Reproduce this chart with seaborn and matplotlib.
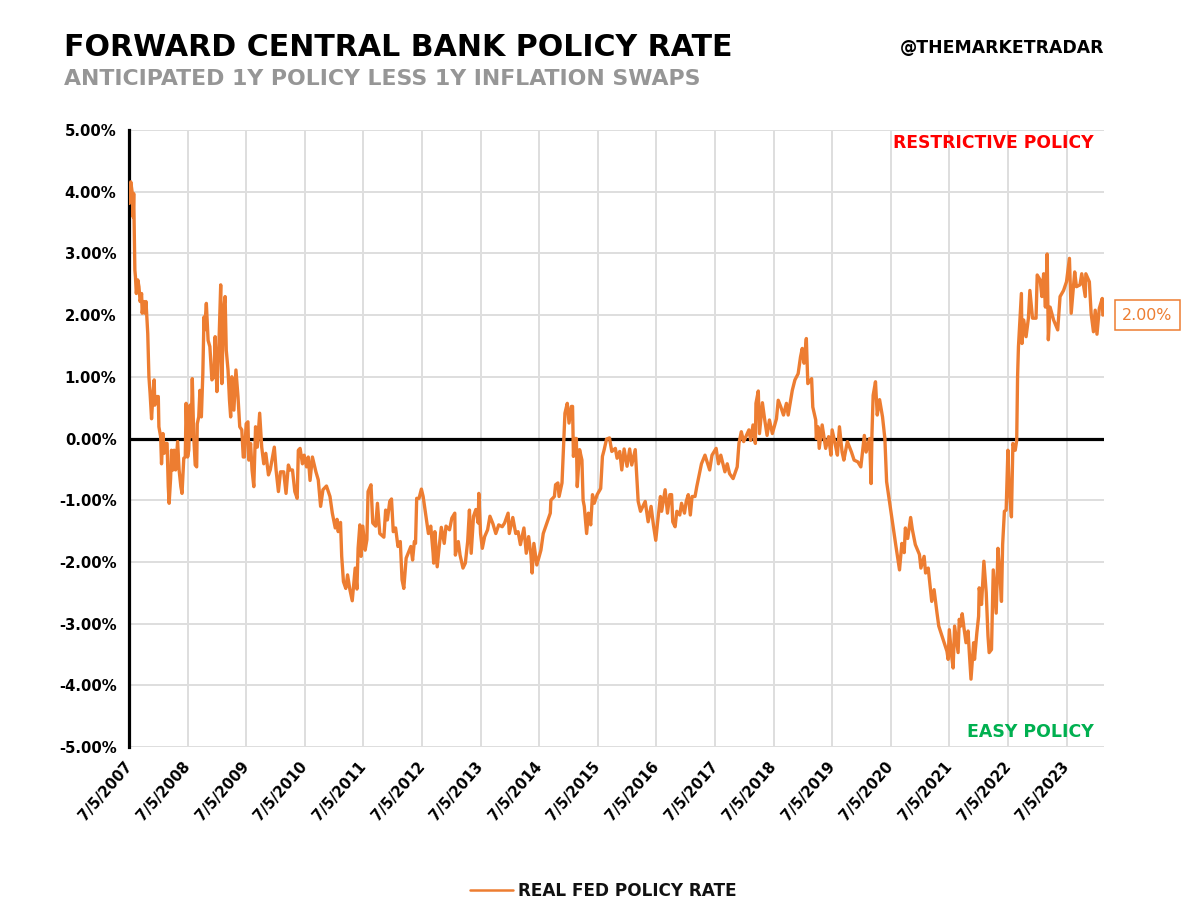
import numpy as np
import pandas as pd
import matplotlib.pyplot as plt
import matplotlib.dates as mdates
import matplotlib.ticker as ticker
import seaborn as sns

ORANGE = "#ED7D31"
GRID = "#DEDEDE"

# years since 7/5/2007 and the real policy rate in %
years = [
    0.006, 0.017, 0.03, 0.06, 0.07, 0.08, 0.10, 0.11, 0.125, 0.15, 0.17, 0.19, 0.215, 0.225, 0.25, 0.27, 0.29, 0.32, 0.34, 0.36,
    0.385, 0.41, 0.43, 0.44, 0.47, 0.50, 0.51, 0.54, 0.555, 0.58, 0.60, 0.62, 0.65, 0.67, 0.685, 0.71, 0.725, 0.75, 0.77, 0.795,
    0.83, 0.855, 0.885, 0.905, 0.935, 0.96, 0.975, 1.0, 1.02, 1.04, 1.06, 1.08, 1.105, 1.13, 1.155, 1.165, 1.19, 1.21, 1.235, 1.26,
    1.28, 1.29, 1.32, 1.35, 1.38, 1.415, 1.45, 1.47, 1.50, 1.53, 1.565, 1.585, 1.615, 1.64, 1.66, 1.69, 1.715, 1.735, 1.755, 1.79,
    1.825, 1.86, 1.89, 1.925, 1.95, 1.97, 2.0, 2.03, 2.045, 2.075, 2.10, 2.13, 2.16, 2.19, 2.23, 2.265, 2.30, 2.335, 2.38, 2.41,
    2.45, 2.48, 2.51, 2.55, 2.585, 2.64, 2.68, 2.72, 2.75, 2.79, 2.83, 2.87, 2.89, 2.92, 2.96, 2.99, 3.03, 3.06, 3.09, 3.13,
    3.19, 3.23, 3.27, 3.31, 3.37, 3.43, 3.47, 3.52, 3.55, 3.57, 3.61, 3.63, 3.66, 3.70, 3.73, 3.77, 3.81, 3.86, 3.89, 3.91,
    3.94, 3.96, 3.99, 4.03, 4.06, 4.08, 4.13, 4.16, 4.21, 4.24, 4.28, 4.35, 4.38, 4.41, 4.45, 4.48, 4.51, 4.55, 4.59, 4.63,
    4.66, 4.69, 4.73, 4.81, 4.84, 4.87, 4.89, 4.91, 4.95, 4.99, 5.02, 5.06, 5.11, 5.15, 5.19, 5.20, 5.22, 5.26, 5.30, 5.33,
    5.38, 5.41, 5.47, 5.51, 5.56, 5.57, 5.62, 5.65, 5.70, 5.74, 5.78, 5.81, 5.84, 5.88, 5.92, 5.96, 5.97, 6.0, 6.03, 6.07,
    6.12, 6.16, 6.21, 6.26, 6.31, 6.37, 6.41, 6.47, 6.49, 6.55, 6.60, 6.64, 6.68, 6.74, 6.78, 6.82, 6.86, 6.88, 6.91, 6.96,
    7.03, 7.07, 7.14, 7.19, 7.20, 7.26, 7.28, 7.32, 7.34, 7.39, 7.42, 7.44, 7.48, 7.51, 7.55, 7.57, 7.585, 7.61, 7.635, 7.65,
    7.69, 7.73, 7.75, 7.77, 7.81, 7.84, 7.88, 7.91, 7.94, 7.99, 8.05, 8.08, 8.11, 8.15, 8.20, 8.24, 8.30, 8.33, 8.375, 8.41,
    8.45, 8.50, 8.545, 8.58, 8.64, 8.67, 8.69, 8.73, 8.81, 8.86, 8.91, 8.95, 8.99, 9.02, 9.07, 9.09, 9.15, 9.19, 9.23, 9.26,
    9.28, 9.32, 9.35, 9.40, 9.43, 9.48, 9.51, 9.545, 9.58, 9.61, 9.66, 9.69, 9.77, 9.83, 9.91, 9.95, 10.02, 10.06, 10.10, 10.17,
    10.21, 10.25, 10.31, 10.38, 10.41, 10.45, 10.49, 10.58, 10.61, 10.65, 10.69, 10.70, 10.74, 10.76, 10.81, 10.85, 10.89, 10.93, 10.98, 11.05,
    11.08, 11.125, 11.17, 11.22, 11.25, 11.32, 11.365, 11.42, 11.46, 11.49, 11.52, 11.56, 11.585, 11.65, 11.67, 11.72, 11.73, 11.76, 11.78, 11.83,
    11.89, 11.94, 11.98, 12.0, 12.05, 12.09, 12.125, 12.17, 12.20, 12.26, 12.33, 12.375, 12.44, 12.49, 12.55, 12.58, 12.64, 12.665, 12.68, 12.70,
    12.74, 12.77, 12.81, 12.86, 12.90, 12.93, 13.085, 13.15, 13.19, 13.23, 13.25, 13.29, 13.34, 13.37, 13.42, 13.49, 13.515, 13.57, 13.595, 13.64,
    13.70, 13.74, 13.79, 13.82, 13.96, 13.98, 14.0, 14.04, 14.065, 14.09, 14.15, 14.17, 14.195, 14.22, 14.25, 14.285, 14.32, 14.34, 14.37, 14.415,
    14.43, 14.47, 14.50, 14.51, 14.55, 14.59, 14.63, 14.66, 14.68, 14.72, 14.75, 14.80, 14.83, 14.86, 14.89, 14.91, 14.94, 14.97, 15.0, 15.02,
    15.06, 15.085, 15.125, 15.15, 15.165, 15.18, 15.23, 15.24, 15.27, 15.31, 15.35, 15.375, 15.42, 15.48, 15.50, 15.55, 15.58, 15.61, 15.64, 15.67,
    15.69, 15.72, 15.78, 15.85, 15.89, 15.95, 16.0, 16.05, 16.08, 16.14, 16.17, 16.23, 16.26, 16.32, 16.33, 16.39, 16.42, 16.46, 16.49, 16.52,
    16.56, 16.61, 16.62,
]
rate = [
    3.81, 4.03, 4.16, 3.95, 3.59, 3.97, 2.73, 2.62, 2.35, 2.57, 2.46, 2.22, 2.35, 2.03, 2.22, 2.03, 2.22, 1.70, 1.0, 0.73,
    0.32, 0.73, 0.95, 0.54, 0.68, 0.68, 0.19, 0.03, -0.41, 0.08, -0.24, -0.08, -0.08, -0.78, -1.05, -0.65, -0.19, -0.51, -0.19, -0.51,
    -0.05, -0.51, -0.78, -0.89, -0.32, -0.30, 0.57, -0.30, -0.19, 0.54, 0.03, 0.97, 0.03, -0.43, -0.46, 0.24, 0.35, 0.78, 0.35, 1.05,
    1.97, 1.76, 2.19, 1.59, 1.49, 0.95, 1.0, 1.65, 0.76, 1.38, 2.49, 0.89, 2.08, 2.30, 1.43, 1.11, 0.62, 0.35, 1.0, 0.46,
    1.11, 0.68, 0.19, 0.14, -0.30, -0.30, 0.24, 0.27, -0.35, -0.08, -0.51, -0.78, 0.19, -0.14, 0.41, -0.14, -0.41, -0.24, -0.59, -0.51,
    -0.30, -0.14, -0.51, -0.86, -0.54, -0.54, -0.89, -0.43, -0.51, -0.51, -0.86, -0.97, -0.19, -0.16, -0.41, -0.27, -0.46, -0.30, -0.68, -0.30,
    -0.54, -0.67, -1.10, -0.83, -0.77, -0.94, -1.21, -1.45, -1.31, -1.51, -1.36, -1.91, -2.32, -2.43, -2.21, -2.45, -2.63, -2.10, -2.44, -1.78,
    -1.40, -1.91, -1.42, -1.81, -1.64, -0.86, -0.75, -1.37, -1.42, -1.05, -1.54, -1.60, -1.16, -1.32, -1.02, -0.98, -1.51, -1.45, -1.75, -1.67,
    -2.29, -2.43, -1.94, -1.75, -1.97, -1.67, -1.70, -0.97, -0.97, -0.82, -0.94, -1.21, -1.54, -1.42, -1.86, -2.02, -1.51, -2.08, -1.70, -1.44,
    -1.70, -1.42, -1.48, -1.29, -1.21, -1.89, -1.67, -1.89, -2.10, -2.02, -1.67, -1.16, -1.86, -1.26, -1.15, -1.37, -0.89, -1.54, -1.78, -1.59,
    -1.48, -1.26, -1.38, -1.54, -1.40, -1.43, -1.37, -1.21, -1.54, -1.28, -1.54, -1.51, -1.72, -1.45, -1.86, -1.59, -1.89, -2.18, -1.70, -2.05,
    -1.81, -1.54, -1.35, -1.21, -1.0, -0.94, -0.75, -0.72, -0.94, -0.72, -0.02, 0.41, 0.57, 0.25, 0.52, 0.52, -0.29, 0.0, 0.0, -0.78,
    -0.18, -0.35, -1.0, -1.10, -1.54, -1.21, -1.40, -0.91, -1.05, -0.91, -0.81, -0.29, -0.18, -0.01, 0.01, -0.21, -0.16, -0.32, -0.21, -0.51,
    -0.17, -0.45, -0.17, -0.43, -0.18, -0.67, -1.02, -1.18, -1.02, -1.35, -1.10, -1.40, -1.65, -1.37, -0.94, -1.18, -0.83, -1.21, -0.91, -0.91,
    -1.35, -1.43, -1.18, -1.24, -1.05, -1.21, -1.02, -0.91, -1.24, -0.94, -0.94, -0.78, -0.41, -0.27, -0.51, -0.27, -0.16, -0.41, -0.27, -0.54,
    -0.41, -0.57, -0.65, -0.46, -0.08, 0.11, -0.05, 0.14, -0.03, 0.22, -0.08, 0.57, 0.77, 0.08, 0.58, 0.30, 0.05, 0.30, 0.08, 0.32,
    0.62, 0.51, 0.38, 0.57, 0.38, 0.78, 0.95, 1.05, 1.32, 1.46, 1.22, 1.62, 0.89, 0.97, 0.51, 0.30, 0.0, 0.19, -0.16, 0.22,
    -0.16, 0.03, -0.27, 0.14, -0.08, -0.27, 0.19, -0.22, -0.35, -0.05, -0.22, -0.35, -0.38, -0.46, 0.05, -0.22, 0.0, -0.73, 0.08, 0.70,
    0.92, 0.38, 0.63, 0.35, 0.0, -0.70, -1.72, -2.13, -1.70, -1.85, -1.45, -1.62, -1.28, -1.48, -1.72, -1.88, -2.10, -1.91, -2.18, -2.10,
    -2.64, -2.45, -2.83, -3.04, -3.45, -3.58, -3.10, -3.53, -3.72, -3.04, -3.47, -2.93, -3.04, -2.84, -3.07, -3.31, -3.12, -3.45, -3.90, -3.31,
    -3.58, -3.15, -2.88, -2.42, -2.69, -1.99, -2.50, -3.20, -3.47, -3.42, -2.13, -2.83, -1.78, -2.18, -2.64, -1.72, -1.18, -1.16, -0.19, -0.78,
    -1.27, -0.08, -0.19, -0.03, 1.0, 1.49, 2.35, 1.54, 1.92, 1.65, 1.95, 2.40, 1.95, 1.95, 2.65, 2.57, 2.30, 2.67, 2.13, 2.99,
    1.60, 2.13, 1.92, 1.76, 2.30, 2.40, 2.54, 2.92, 2.03, 2.70, 2.46, 2.49, 2.67, 2.30, 2.67, 2.54, 2.03, 1.73, 2.08, 1.69,
    2.11, 2.27, 2.0,
]
tick_years = list(range(2007, 2024))
y_ticks = [-5, -4, -3, -2, -1, 0, 1, 2, 3, 4, 5]
last_label = "2.00%"

start = pd.Timestamp("2007-07-05")
df = pd.DataFrame({"date": start + pd.to_timedelta(np.array(years) * 365.25, unit="D"), "rate": rate})

sns.set_style("whitegrid", {"grid.color": GRID, "axes.edgecolor": "black"})
plt.rcParams["font.family"] = ["DejaVu Sans"]
plt.rcParams["font.weight"] = "bold"

fig = plt.figure(figsize=(12, 9.21), dpi=100)
ax = fig.add_axes([129 / 1200, 1 - 747 / 921, (1104 - 129) / 1200, (747 - 130) / 921])
ax.set_axisbelow(True)

sns.lineplot(data=df, x="date", y="rate", color=ORANGE, lw=2.4, ax=ax, label="REAL FED POLICY RATE", zorder=4)
ax.axhline(0, color="black", lw=2.3, zorder=3)

ax.set_xlim(start, start + pd.Timedelta(days=16.64 * 365.25))
ax.set_ylim(-5, 5)
ax.set_yticks(y_ticks)
ax.yaxis.set_major_formatter(ticker.FuncFormatter(lambda v, _: f"{v:.2f}%"))
ax.set_xticks([pd.Timestamp(f"{y}-07-05") for y in tick_years])
ax.set_xticklabels([f"7/5/{y}" for y in tick_years], rotation=49, ha="right", va="center", rotation_mode="anchor")
ax.xaxis.set_major_locator(ticker.FixedLocator([mdates.date2num(pd.Timestamp(f"{y}-07-05")) for y in tick_years]))
ax.tick_params(axis="x", labelsize=10.6, pad=12, length=0, colors="black")
ax.tick_params(axis="y", labelsize=10.7, pad=9, length=0, colors="black")
ax.grid(True, color=GRID, lw=1.4)
ax.set_xlabel("")
ax.set_ylabel("")

for side in ["top", "right", "bottom"]:
    ax.spines[side].set_visible(False)
ax.spines["left"].set_linewidth(2.3)
ax.spines["left"].set_color("black")

ax.legend_.remove()
handles, labels = ax.get_legend_handles_labels()
leg = fig.legend(handles, labels, loc="center", bbox_to_anchor=(603 / 1200, 1 - 891 / 921), frameon=False,
                 fontsize=12.2, handlelength=2.55, handletextpad=0.3, labelcolor="#111111")
leg.get_lines()[0].set_linewidth(1.8)

# header
fig.text(64 / 1200, 1 - 56 / 921, "FORWARD CENTRAL BANK POLICY RATE", fontsize=21.65, fontweight="bold", color="black", va="baseline")
fig.text(64 / 1200, 1 - 85 / 921, "ANTICIPATED 1Y POLICY LESS 1Y INFLATION SWAPS", fontsize=15.85, fontweight="bold", color="#969696", va="baseline")
fig.text(1104 / 1200, 1 - 52.5 / 921, "@THEMARKETRADAR", fontsize=12.4, fontweight="bold", color="black", ha="right", va="baseline")

ax.text(1094 / 1200, 1 - 148.5 / 921, "RESTRICTIVE POLICY", transform=fig.transFigure, fontsize=12.3, color="#FF0000", ha="right", va="baseline")
ax.text(1094 / 1200, 1 - 736.5 / 921, "EASY POLICY", transform=fig.transFigure, fontsize=12.5, color="#00B050", ha="right", va="baseline")

fig.text(1147.5 / 1200, 1 - 315 / 921, last_label, fontsize=11.4, fontweight="normal", color=ORANGE, ha="center", va="center",
         bbox=dict(boxstyle="square,pad=0.45", fc="white", ec=ORANGE, lw=1.1))

fig.savefig("out.png", dpi=100, facecolor="white")
